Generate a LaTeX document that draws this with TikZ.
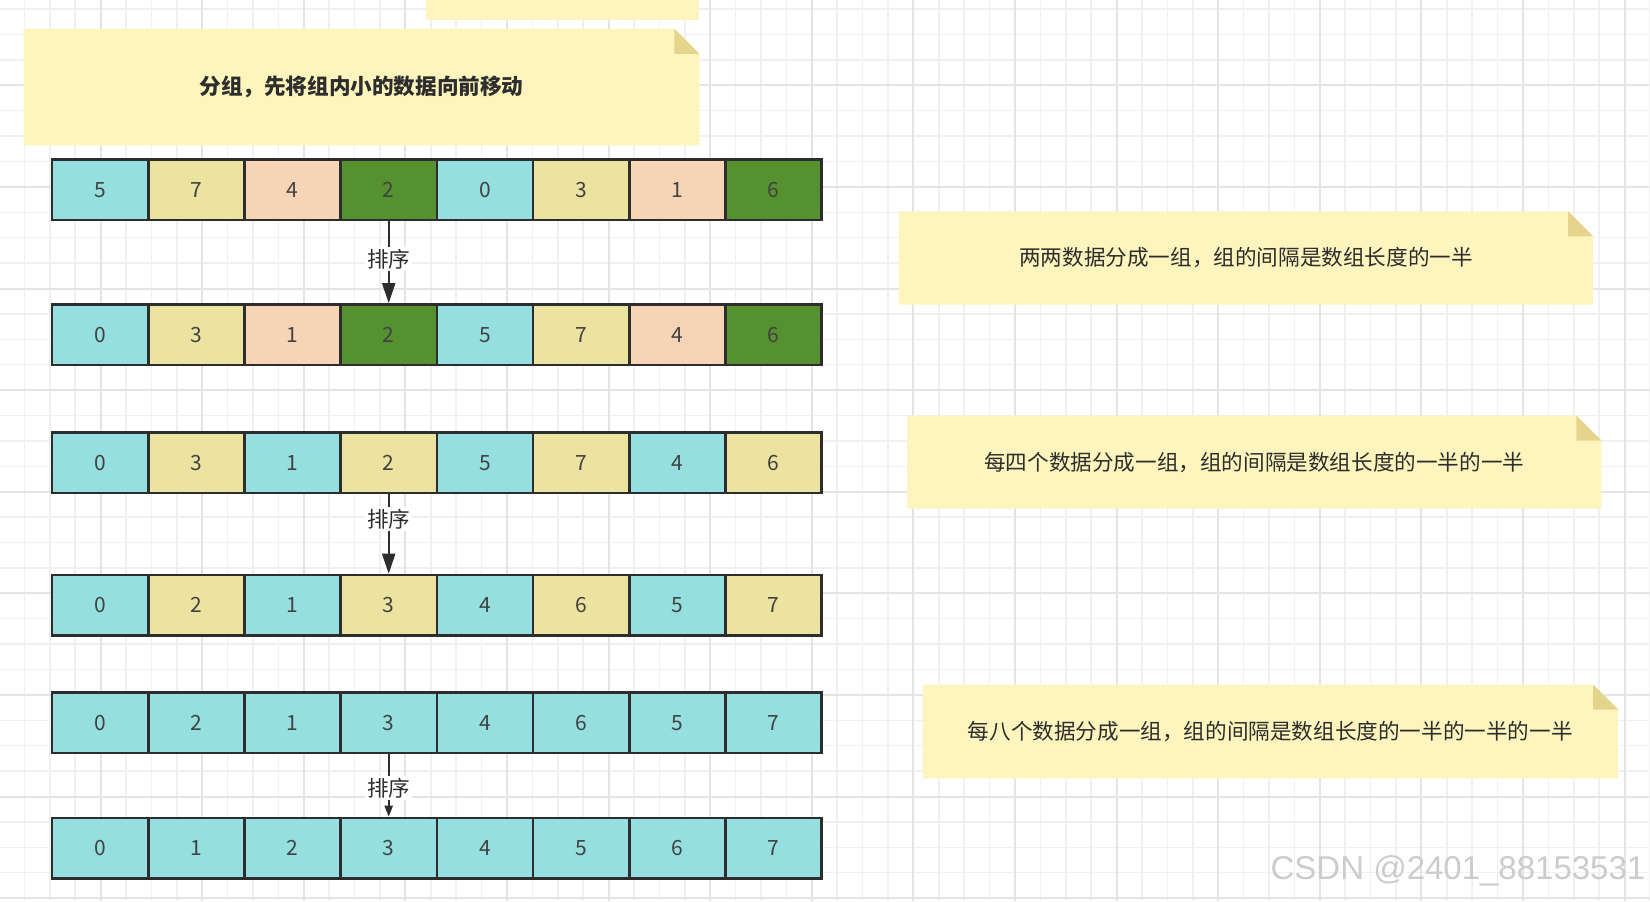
\documentclass[tikz,border=0pt]{standalone}
\usepackage{fontspec}
\usepackage{tikz}
\usepackage{xcolor}
\usetikzlibrary{arrows.meta, positioning, backgrounds}
\setmainfont{Noto Sans CJK SC}
\newfontfamily\cjk{Noto Sans CJK SC}
\newfontfamily\wmfont{Liberation Sans}
\definecolor{cellcyan}{RGB}{149,223,224}
\definecolor{cellkhaki}{RGB}{237,227,161}
\definecolor{cellpeach}{RGB}{247,212,182}
\definecolor{cellgreen}{RGB}{85,145,47}
\definecolor{notefill}{RGB}{253,245,189}
\definecolor{notefold}{RGB}{229,212,140}
\definecolor{inkdark}{RGB}{45,45,45}
\definecolor{gridminor}{RGB}{240,240,240}
\definecolor{gridmajor}{RGB}{228,228,228}

\begin{document}
\begin{tikzpicture}[x=0.5pt, y=-0.5pt,
  cell/.style={draw=inkdark, line width=1.3pt, fill=cell#1, minimum width=48.1pt, minimum height=30.25pt, inner sep=0pt, text=inkdark!90, font=\cjk\fontsize{10.5}{12}\selectfont},
  note/.style={inner sep=0pt, text=inkdark, font=\cjk\fontsize{10.8}{13}\selectfont},
  sortarr/.style={-{Triangle[length=#1, width'=1pt .55]}, line width=1pt, draw=inkdark},
  sortarr/.default=10pt,
  sortlabel/.style={fill=white, inner sep=1pt, text=inkdark, font=\cjk\fontsize{10.8}{13}\selectfont},
]
% Notes
\node[note, minimum width=337.5pt, minimum height=57.85pt] (n1) at (361.5,87.15) {\textbf{分组，先将组内小的数据向前移动}};
\node[note, minimum width=346.65pt, minimum height=46.3pt] (n2) at (1246,258) {两两数据分成一组，组的间隔是数组长度的一半};
\node[note, minimum width=346.75pt, minimum height=46.15pt] (n3) at (1254.25,462.15) {每四个数据分成一组，组的间隔是数组长度的一半的一半};
\node[note, minimum width=347.35pt, minimum height=46.5pt] (n4) at (1270.35,731.5) {每八个数据分成一组，组的间隔是数组长度的一半的一半的一半};

% Array rows
\foreach \r/\ytop/\vals in {
  1/159.5/{5/cyan,7/khaki,4/peach,2/green,0/cyan,3/khaki,1/peach,6/green},
  2/304.5/{0/cyan,3/khaki,1/peach,2/green,5/cyan,7/khaki,4/peach,6/green},
  3/432.5/{0/cyan,3/khaki,1/cyan,2/khaki,5/cyan,7/khaki,4/cyan,6/khaki},
  4/575/{0/cyan,2/khaki,1/cyan,3/khaki,4/cyan,6/khaki,5/cyan,7/khaki},
  5/692.5/{0/cyan,2/cyan,1/cyan,3/cyan,4/cyan,6/cyan,5/cyan,7/cyan},
  6/818/{0/cyan,1/cyan,2/cyan,3/cyan,4/cyan,5/cyan,6/cyan,7/cyan}}
  \foreach \v/\c [count=\i] in \vals
    \node[cell=\c] (r\r-\i) at ({3.9+96.2*\i},{\ytop+30.25}) {\v};

% Sort arrows
\draw[sortarr] (r1-4) -- node[sortlabel, pos=0.46] (s1) {排序} (r2-4);
\draw[sortarr] (r3-4) -- node[sortlabel, pos=0.31] (s2) {排序} (r4-4);
\draw[sortarr=5.5pt] (r5-4) -- node[sortlabel, pos=0.54] (s3) {排序} (r6-4);

% Watermark
\node[font=\wmfont\fontsize{16.5}{18}\selectfont, text=gray!40] (mark) at (1458,871) {CSDN @2401\_88153531};

% Canvas grid and note paper
\begin{scope}[on background layer]
\fill[white] (0,0) rectangle (1650,901);
\foreach \i in {0,...,65} \draw[gridminor, line width=0.75pt] ({-1+25.4*\i},0) -- ++(0,901);
\foreach \j in {0,...,35} \draw[gridminor, line width=0.75pt] (0,{9.1+25.4*\j}) -- ++(1650,0);
\foreach \i in {0,...,16} \draw[gridmajor, line width=1pt] ({-1+101.6*\i},0) -- ++(0,901);
\foreach \j in {0,...,9} \draw[gridmajor, line width=1pt] (0,{-16.3+101.6*\j}) -- ++(1650,0);
\fill[notefill] (426,-40) rectangle (699,20);
\foreach \n in {n1,n2,n3,n4} {
  \fill[notefill] (\n.south west) -- (\n.north west) -- ([xshift=-12.5pt]\n.north east) -- ([yshift=-12.5pt]\n.north east) -- (\n.south east) -- cycle;
  \fill[notefold] ([xshift=-12.5pt]\n.north east) -- ([yshift=-12.5pt]\n.north east) -- ([xshift=-12.5pt,yshift=-12.5pt]\n.north east) -- cycle;
}
\end{scope}
\pgfresetboundingbox
\useasboundingbox (0,0) rectangle (1650,901);
\end{tikzpicture}
\end{document}
